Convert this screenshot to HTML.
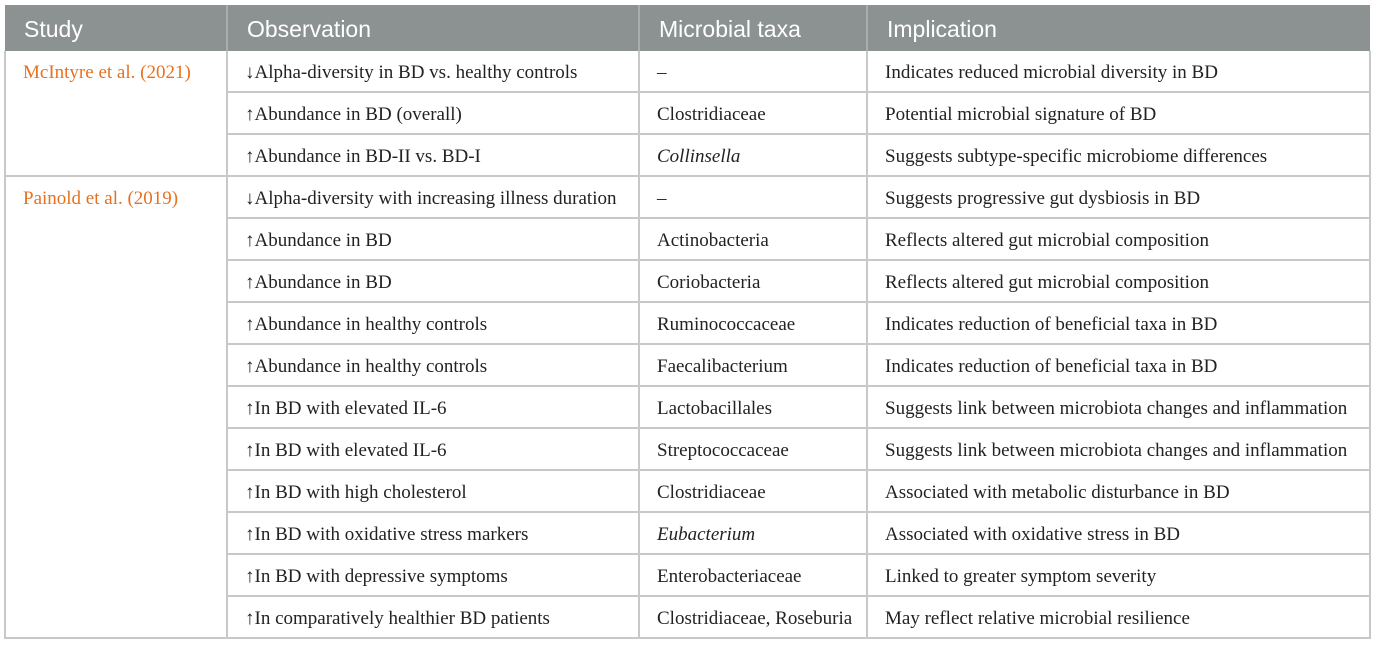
<!DOCTYPE html>
<html><head><meta charset="utf-8"><style>
body{margin:0;background:#fff;width:1375px;height:646px;overflow:hidden}
table{position:absolute;left:4px;top:5px;border-collapse:collapse;width:1365px;table-layout:fixed}
th{background:#8c9292;color:#fff;font:400 23px "Liberation Sans",sans-serif;text-align:left;padding:2px 0 0 19px;height:44px;border-left:2px solid #a9adad}
th:first-child{border-left:none}
td{font:19px "Liberation Serif",serif;color:#222;height:37px;padding:3px 0 0 17px;border:2px solid #c8c8c8;vertical-align:middle;white-space:nowrap}
td.s{color:#e8711f;vertical-align:top;padding-top:11px}
tr.first td{border-top:none}
</style></head><body>
<table>
<colgroup><col style="width:222px"><col style="width:412px"><col style="width:228px"><col style="width:503px"></colgroup>
<tr><th>Study</th><th>Observation</th><th>Microbial taxa</th><th>Implication</th></tr>
<tr class="first"><td class="s" rowspan="3">McIntyre et al. (2021)</td><td>↓Alpha-diversity in BD vs. healthy controls</td><td>–</td><td>Indicates reduced microbial diversity in BD</td></tr>
<tr><td>↑Abundance in BD (overall)</td><td>Clostridiaceae</td><td>Potential microbial signature of BD</td></tr>
<tr><td>↑Abundance in BD-II vs. BD-I</td><td><i>Collinsella</i></td><td>Suggests subtype-specific microbiome differences</td></tr>
<tr><td class="s" rowspan="11">Painold et al. (2019)</td><td>↓Alpha-diversity with increasing illness duration</td><td>–</td><td>Suggests progressive gut dysbiosis in BD</td></tr>
<tr><td>↑Abundance in BD</td><td>Actinobacteria</td><td>Reflects altered gut microbial composition</td></tr>
<tr><td>↑Abundance in BD</td><td>Coriobacteria</td><td>Reflects altered gut microbial composition</td></tr>
<tr><td>↑Abundance in healthy controls</td><td>Ruminococcaceae</td><td>Indicates reduction of beneficial taxa in BD</td></tr>
<tr><td>↑Abundance in healthy controls</td><td>Faecalibacterium</td><td>Indicates reduction of beneficial taxa in BD</td></tr>
<tr><td>↑In BD with elevated IL-6</td><td>Lactobacillales</td><td>Suggests link between microbiota changes and inflammation</td></tr>
<tr><td>↑In BD with elevated IL-6</td><td>Streptococcaceae</td><td>Suggests link between microbiota changes and inflammation</td></tr>
<tr><td>↑In BD with high cholesterol</td><td>Clostridiaceae</td><td>Associated with metabolic disturbance in BD</td></tr>
<tr><td>↑In BD with oxidative stress markers</td><td><i>Eubacterium</i></td><td>Associated with oxidative stress in BD</td></tr>
<tr><td>↑In BD with depressive symptoms</td><td>Enterobacteriaceae</td><td>Linked to greater symptom severity</td></tr>
<tr><td>↑In comparatively healthier BD patients</td><td>Clostridiaceae, Roseburia</td><td>May reflect relative microbial resilience</td></tr>
</table>
</body></html>
